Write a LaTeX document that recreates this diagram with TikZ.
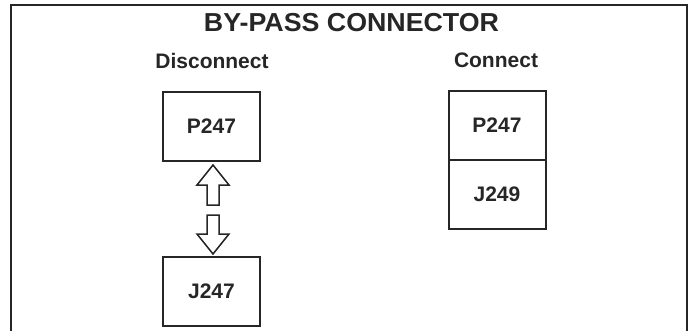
\documentclass[tikz,border=0pt]{standalone}
\usepackage{fontspec}
\setmainfont{Liberation Sans}
\begin{document}
\begin{tikzpicture}[x=1pt,y=-1pt,
  box/.style={draw=black!85,line width=2pt,minimum width=97pt,minimum height=69pt,inner sep=0pt,font=\fontsize{21}{21}\selectfont\bfseries,text=black!85},
  lbl/.style={font=\fontsize{21}{21}\selectfont\bfseries,text=black!85,inner sep=0pt,anchor=base},
  blockarrow/.style={draw=black!85,line width=1.5pt,line join=miter,fill=white}]
\useasboundingbox (0,0) rectangle (694,330);
% outer frame (open at bottom)
\draw[line width=2pt,black!85] (11,331) -- (11,5) -- (687,5) -- (687,331);
% title and headings
\node[lbl,font=\fontsize{26}{26}\selectfont\bfseries] (title) at (351.5,31) {\scalebox{1.03}[1]{BY-PASS CONNECTOR}};
\node[lbl] (disc) at (212,68) {Disconnect};
\node[lbl] (conn) at (496,67) {Connect};
% disconnect boxes
\node[box] (p1) at (211.5,126.5) {P247};
\node[box] (j1) at (211.5,291.5) {J247};
% connect boxes
\node[box] (p2) at (497,125.5) {P247};
\node[box] (j2) at (497,194) {J249};
% block arrows
\draw[blockarrow] (213,165) -- (229,185) -- (219,185) -- (219,205) -- (207,205) -- (207,185) -- (197,185) -- cycle;
\draw[blockarrow] (213,254) -- (229,234) -- (219,234) -- (219,215) -- (207,215) -- (207,234) -- (197,234) -- cycle;
\end{tikzpicture}
\end{document}
